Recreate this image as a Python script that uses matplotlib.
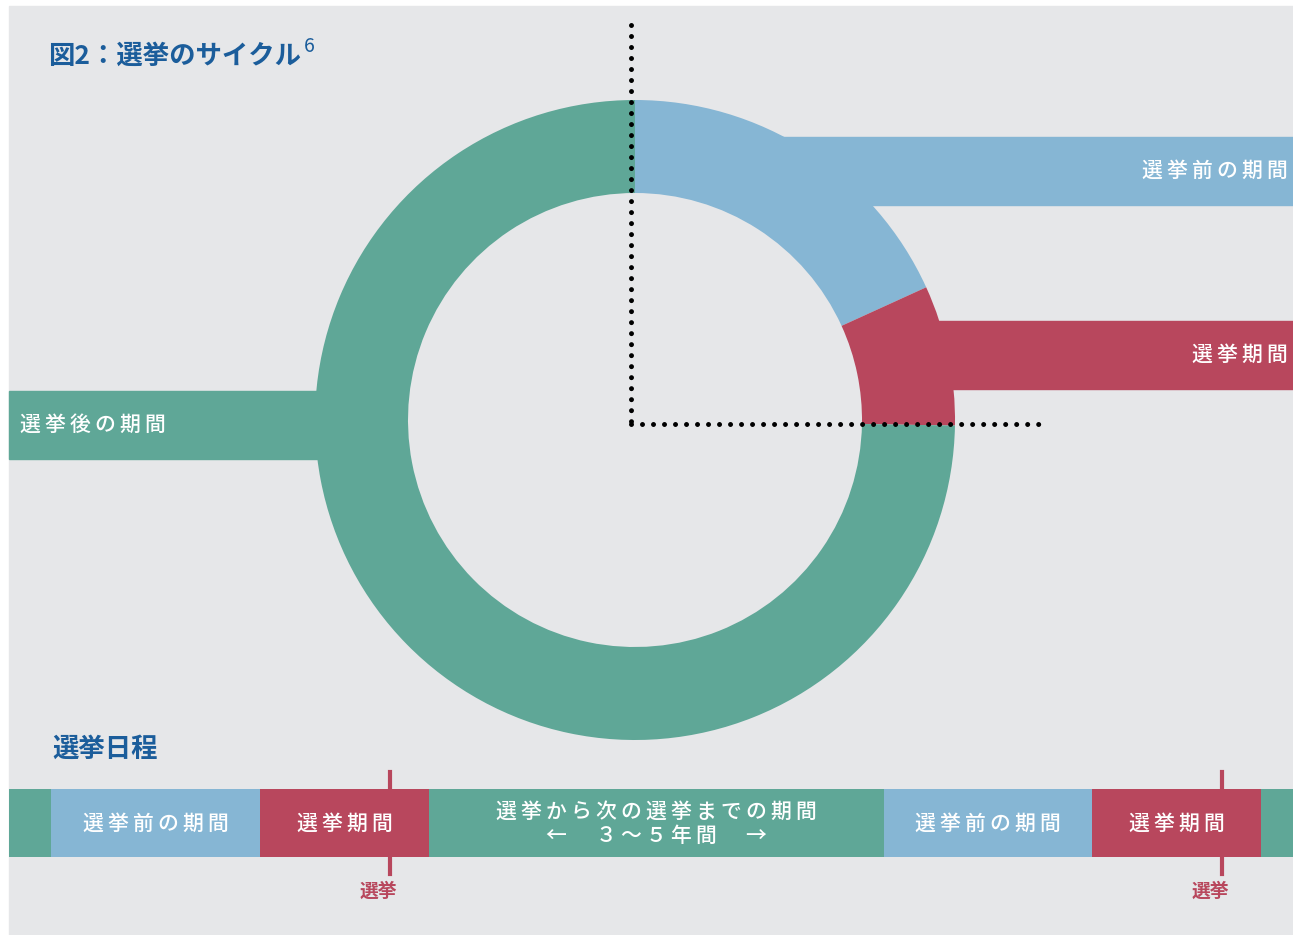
import numpy as np
import matplotlib.pyplot as plt
from matplotlib.patches import Wedge, Rectangle

# election cycle ring: angles in degrees, counterclockwise from 3 o'clock as seen on the page
ring_names = ['選挙前の期間', '選挙期間', '選挙後の期間']
ring_start = [24.5, -1.0, 90.0]
ring_end = [90.0, 24.5, 359.0]

# election timeline: segment kind and length (pixels along the bar)
timeline_kind = ['post', 'pre', 'elec', 'post', 'pre', 'elec', 'post']
timeline_len = [42, 209, 169, 455, 208, 169, 32]
timeline_text = ['', '選挙前の期間', '選挙期間',
                 '選挙から次の選挙までの期間\n←　３～５年間　→',
                 '選挙前の期間', '選挙期間', '']
election_x = [390, 1222]
election_label = '選挙'

title = '図2：選挙のサイクル'
title_note = '6'
timeline_title = '選挙日程'

colors = {'pre': '#86b6d4', 'elec': '#b8475d', 'post': '#5fa797'}
ring_kind = ['pre', 'elec', 'post']
BG = '#e6e7e9'
NAVY = '#1b5d9b'
JP = ['Noto Sans CJK JP', 'DejaVu Sans']


def spaced(s):
    # a little letter spacing, like the original layout
    return '\n'.join('\u2009'.join(line) for line in s.split('\n'))


def main():
    fig = plt.figure(figsize=(12.93, 9.35), dpi=100)
    ax = fig.add_axes([0, 0, 1, 1])
    ax.set_xlim(0, 1293)
    ax.set_ylim(935, 0)
    ax.set_aspect('equal')
    ax.axis('off')

    ax.add_patch(Rectangle((9, 6), 1284, 929, color=BG, zorder=0))

    # side bands leading out of the ring
    cx, cy, R, w = 635, 420, 320, 93
    ax.add_patch(Rectangle((750, 137), 1293 - 750, 68, color=colors['pre'], zorder=1))
    ax.add_patch(Rectangle((900, 321), 1293 - 900, 68, color=colors['elec'], zorder=1))
    ax.add_patch(Rectangle((9, 391), 360 - 9, 68, color=colors['post'], zorder=1))

    # ring (y axis is inverted, so page angles flip sign)
    for a0, a1, k in zip(ring_start, ring_end, ring_kind):
        ax.add_patch(Wedge((cx, cy), R, -a1, -a0, width=w, color=colors[k],
                           zorder=2, lw=0))

    txt = dict(color='white', fontsize=15, family=JP, fontweight='medium', zorder=5)
    ax.text(1288, 171, spaced(ring_names[0]), ha='right', va='center', **txt)
    ax.text(1288, 355, spaced(ring_names[1]), ha='right', va='center', **txt)
    ax.text(20, 425, spaced(ring_names[2]), ha='left', va='center', **txt)

    # dotted guide lines
    dots = dict(color='black', lw=3.6, linestyle=(0, (0.001, 2.2)),
                dash_capstyle='round', zorder=4)
    ax.plot([631, 631], [25, 424], **dots)
    ax.plot([631, 1043], [424, 424], **dots)

    ax.text(48, 56, title, ha='left', va='center', fontsize=19,
            fontweight='bold', color=NAVY, family=JP)
    ax.text(304, 46, title_note, ha='left', va='center', fontsize=14,
            color=NAVY, family=JP)
    ax.text(52, 749, timeline_title, ha='left', va='center', fontsize=19,
            fontweight='bold', color=NAVY, family=JP)

    # timeline bar
    starts = 9 + np.concatenate([[0], np.cumsum(timeline_len)[:-1]])
    ax.barh(823, timeline_len, left=starts, height=68,
            color=[colors[k] for k in timeline_kind], zorder=1)
    for s, l, t in zip(starts, timeline_len, timeline_text):
        if t:
            ax.text(s + l / 2, 824, spaced(t), ha='center', va='center',
                    linespacing=1.15, **txt)

    for x in election_x:
        ax.plot([x, x], [772, 874], color=colors['elec'], lw=3, zorder=0.5)
        ax.text(x - 12, 891, election_label, ha='center', va='center',
                fontsize=13.5, fontweight='bold', color=colors['elec'], family=JP)

    fig.savefig('out.png', dpi=100, facecolor='white')


if __name__ == '__main__':
    main()
